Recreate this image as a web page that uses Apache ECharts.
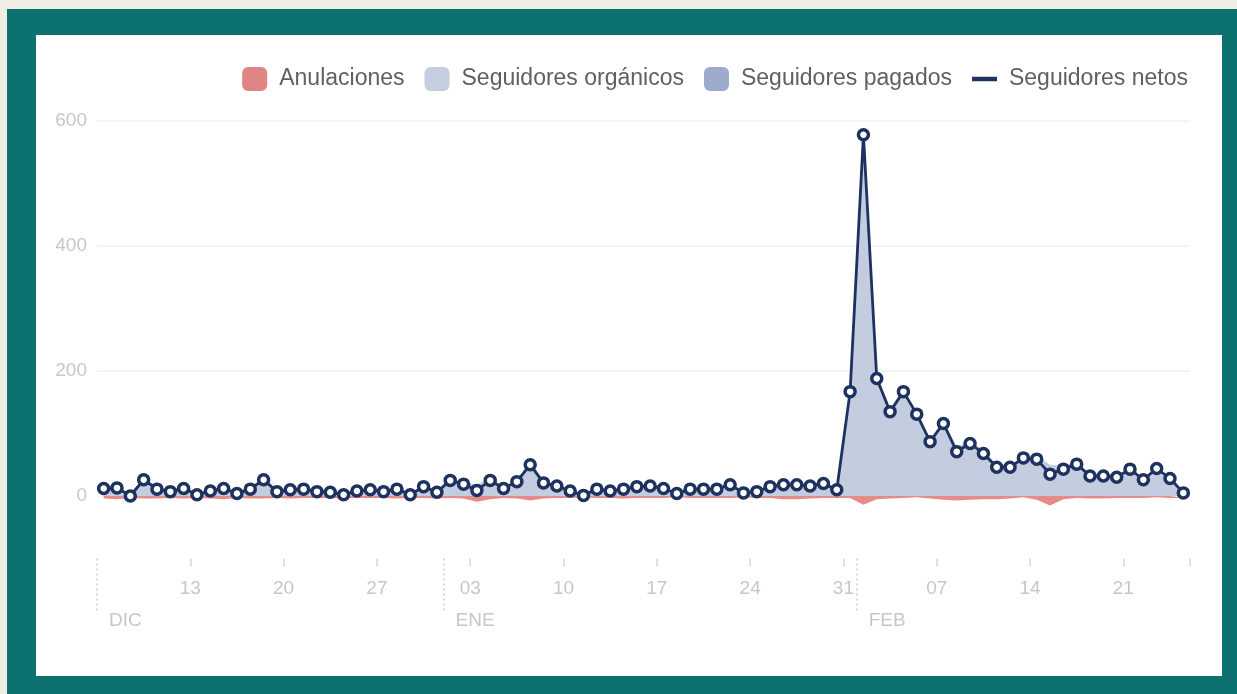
<!DOCTYPE html>
<html>
<head>
<meta charset="utf-8">
<script src="https://cdn.jsdelivr.net/npm/echarts@6/dist/echarts.min.js"></script>
<style>
  body { margin: 0; background: #efeee3; }
  #frame { position: absolute; left: 7px; top: 9px; width: 1230px; height: 685px; background: #0c716f; }
  #chart { position: absolute; left: 29px; top: 26px; width: 1186px; height: 641px; background: #fff; }
</style>
</head>
<body>
<div id="frame"><div id="chart"></div></div>
<script>
// months shown and first / last day in each one
var meses = ['DIC', 'ENE', 'FEB'];
var primerDia = [6, 1, 1];
var ultimoDia = [31, 31, 25];

// labelled weekly ticks
var semanas = ['13 DIC', '20 DIC', '27 DIC', '03 ENE', '10 ENE', '17 ENE', '24 ENE', '31 ENE', '07 FEB', '14 FEB', '21 FEB'];

var netos = [12, 13, 0, 26, 11, 7, 12, 2, 8, 12, 4, 11, 26, 7, 10, 11, 7, 6, 2, 8, 10, 7, 11, 2, 15, 6,
	25, 19, 9, 25, 12, 23, 50, 21, 16, 8, 1, 11, 8, 11, 15, 16, 12, 4, 11, 11, 11, 18, 5, 7, 15, 18, 18, 16, 20, 10, 167,
	578, 188, 135, 167, 131, 87, 116, 71, 84, 68, 46, 46, 61, 59, 35, 43, 51, 32, 32, 30, 43, 26, 44, 28, 5];

var anulaciones = [-4, -5, -3, -4, -4, -3, -4, -3, -4, -5, -3, -4, -4, -3, -4, -3, -3, -3, -4, -3, -3, -3, -4, -3, -3, -4,
	-3, -4, -9, -5, -3, -4, -7, -4, -3, -3, -2, -3, -3, -4, -3, -3, -3, -2, -3, -3, -3, -3, -2, -3, -3, -5, -5, -4, -3, -3, -3,
	-14, -5, -4, -3, -2, -4, -6, -7, -6, -5, -5, -4, -2, -6, -15, -5, -3, -4, -4, -3, -3, -3, -2, -3, -3];

var organicos = [16, 18, 3, 30, 15, 10, 16, 5, 12, 17, 7, 15, 30, 10, 14, 14, 10, 9, 6, 11, 13, 10, 15, 5, 18, 10,
	28, 23, 18, 30, 15, 27, 57, 25, 19, 11, 3, 14, 11, 15, 18, 19, 15, 6, 14, 14, 14, 21, 7, 10, 18, 23, 23, 20, 23, 13, 170,
	585, 193, 139, 170, 133, 91, 122, 78, 90, 73, 51, 50, 63, 65, 50, 48, 54, 36, 36, 33, 46, 29, 46, 31, 8];

var pagados = [0, 0, 0, 0, 0, 0, 0, 0, 0, 0, 0, 0, 0, 0, 0, 0, 0, 0, 0, 0, 0, 0, 0, 0, 0, 0,
	0, 0, 0, 0, 0, 0, 0, 0, 0, 0, 0, 0, 0, 0, 0, 0, 0, 0, 0, 0, 0, 0, 0, 0, 0, 0, 0, 0, 0, 0, 0,
	0, 0, 0, 0, 0, 0, 0, 0, 0, 0, 0, 0, 0, 0, 0, 0, 0, 0, 0, 0, 0, 0, 0, 0, 0];

var dias = [];
var inicioMes = [];
for (var m = 0; m < meses.length; m++) {
	inicioMes.push(dias.length);
	for (var d = primerDia[m]; d <= ultimoDia[m]; d++) {
		dias.push((d < 10 ? '0' + d : '' + d) + ' ' + meses[m]);
	}
}
var semanaIdx = semanas.map(function (s) { return dias.indexOf(s); });

var gris = '#c3c7ce';
var fuente = 'Liberation Sans, Arial, sans-serif';

var myChart = echarts.init(document.getElementById('chart'));
var option = {
	animation: false,
	textStyle: { fontFamily: fuente },
	legend: {
		right: 29,
		top: 27,
		itemWidth: 25,
		itemHeight: 24,
		itemGap: 20,
		textStyle: { fontSize: 23, color: '#5d6167', padding: [0, 0, 0, 7] },
		data: [
			{ name: 'Anulaciones', icon: 'roundRect', itemStyle: { color: '#e08583' } },
			{ name: 'Seguidores orgánicos', icon: 'roundRect', itemStyle: { color: '#c5cde0' } },
			{ name: 'Seguidores pagados', icon: 'roundRect', itemStyle: { color: '#9eaacb' } },
			{ name: 'Seguidores netos', icon: 'path://M0 0H28V5H0Z', itemStyle: { color: '#1e3260', borderWidth: 0 } }
		]
	},
	grid: { left: 61, right: 32, top: 86, bottom: 117.5 },
	xAxis: [
		{
			type: 'category',
			data: dias,
			boundaryGap: true,
			show: false
		},
		{
			type: 'value',
			min: 0,
			max: dias.length,
			position: 'bottom',
			axisLine: { show: false },
			splitLine: { show: false },
			axisTick: {
				show: true,
				length: 8,
				customValues: semanaIdx.concat([dias.length]),
				lineStyle: { color: '#d3d6db', width: 1.5 }
			},
			axisLabel: {
				customValues: semanaIdx,
				margin: 21,
				fontSize: 19,
				color: gris,
				formatter: function (v) { return dias[v].split(' ')[0]; }
			}
		},
		{
			type: 'value',
			min: 0,
			max: dias.length,
			position: 'bottom',
			axisLine: { show: false },
			splitLine: { show: false },
			axisTick: {
				show: true,
				length: 52,
				customValues: inicioMes,
				lineStyle: { color: '#c8ccd2', width: 1.5, type: [2, 3] }
			},
			axisLabel: {
				customValues: inicioMes,
				margin: 53,
				fontSize: 19,
				color: gris,
				align: 'left',
				padding: [0, 0, 0, 12],
				formatter: function (v) { return meses[inicioMes.indexOf(v)]; }
			}
		}
	],
	yAxis: {
		type: 'value',
		min: -100,
		max: 600,
		interval: 100,
		axisLine: { show: false },
		axisTick: { show: false },
		axisLabel: {
			margin: 10,
			fontSize: 19,
			color: gris,
			formatter: function (v) { return (v >= 0 && v % 200 === 0) ? v : ''; }
		},
		splitLine: { lineStyle: { color: ['rgba(0,0,0,0)', '#eef0f3'], width: 1.5 } }
	},
	series: [
		{
			name: 'Anulaciones',
			type: 'line',
			data: anulaciones,
			showSymbol: false,
			lineStyle: { width: 0 },
			itemStyle: { color: '#e08583' },
			areaStyle: { color: '#e58c89', opacity: 1 }
		},
		{
			name: 'Seguidores orgánicos',
			type: 'line',
			stack: 'pos',
			data: organicos,
			showSymbol: false,
			lineStyle: { width: 0 },
			itemStyle: { color: '#c5cde0' },
			areaStyle: { color: '#c4cce0', opacity: 1 }
		},
		{
			name: 'Seguidores pagados',
			type: 'line',
			stack: 'pos',
			data: pagados,
			showSymbol: false,
			lineStyle: { width: 0 },
			itemStyle: { color: '#9eaacb' },
			areaStyle: { color: '#9eaacb', opacity: 1 }
		},
		{
			name: 'Seguidores netos',
			type: 'line',
			data: netos,
			symbol: 'circle',
			symbolSize: 10,
			showAllSymbol: true,
			lineStyle: { color: '#1e3260', width: 2.8 },
			itemStyle: { color: '#fff', borderColor: '#1e3260', borderWidth: 3.5 }
		}
	]
};
myChart.setOption(option);
</script>
</body>
</html>
